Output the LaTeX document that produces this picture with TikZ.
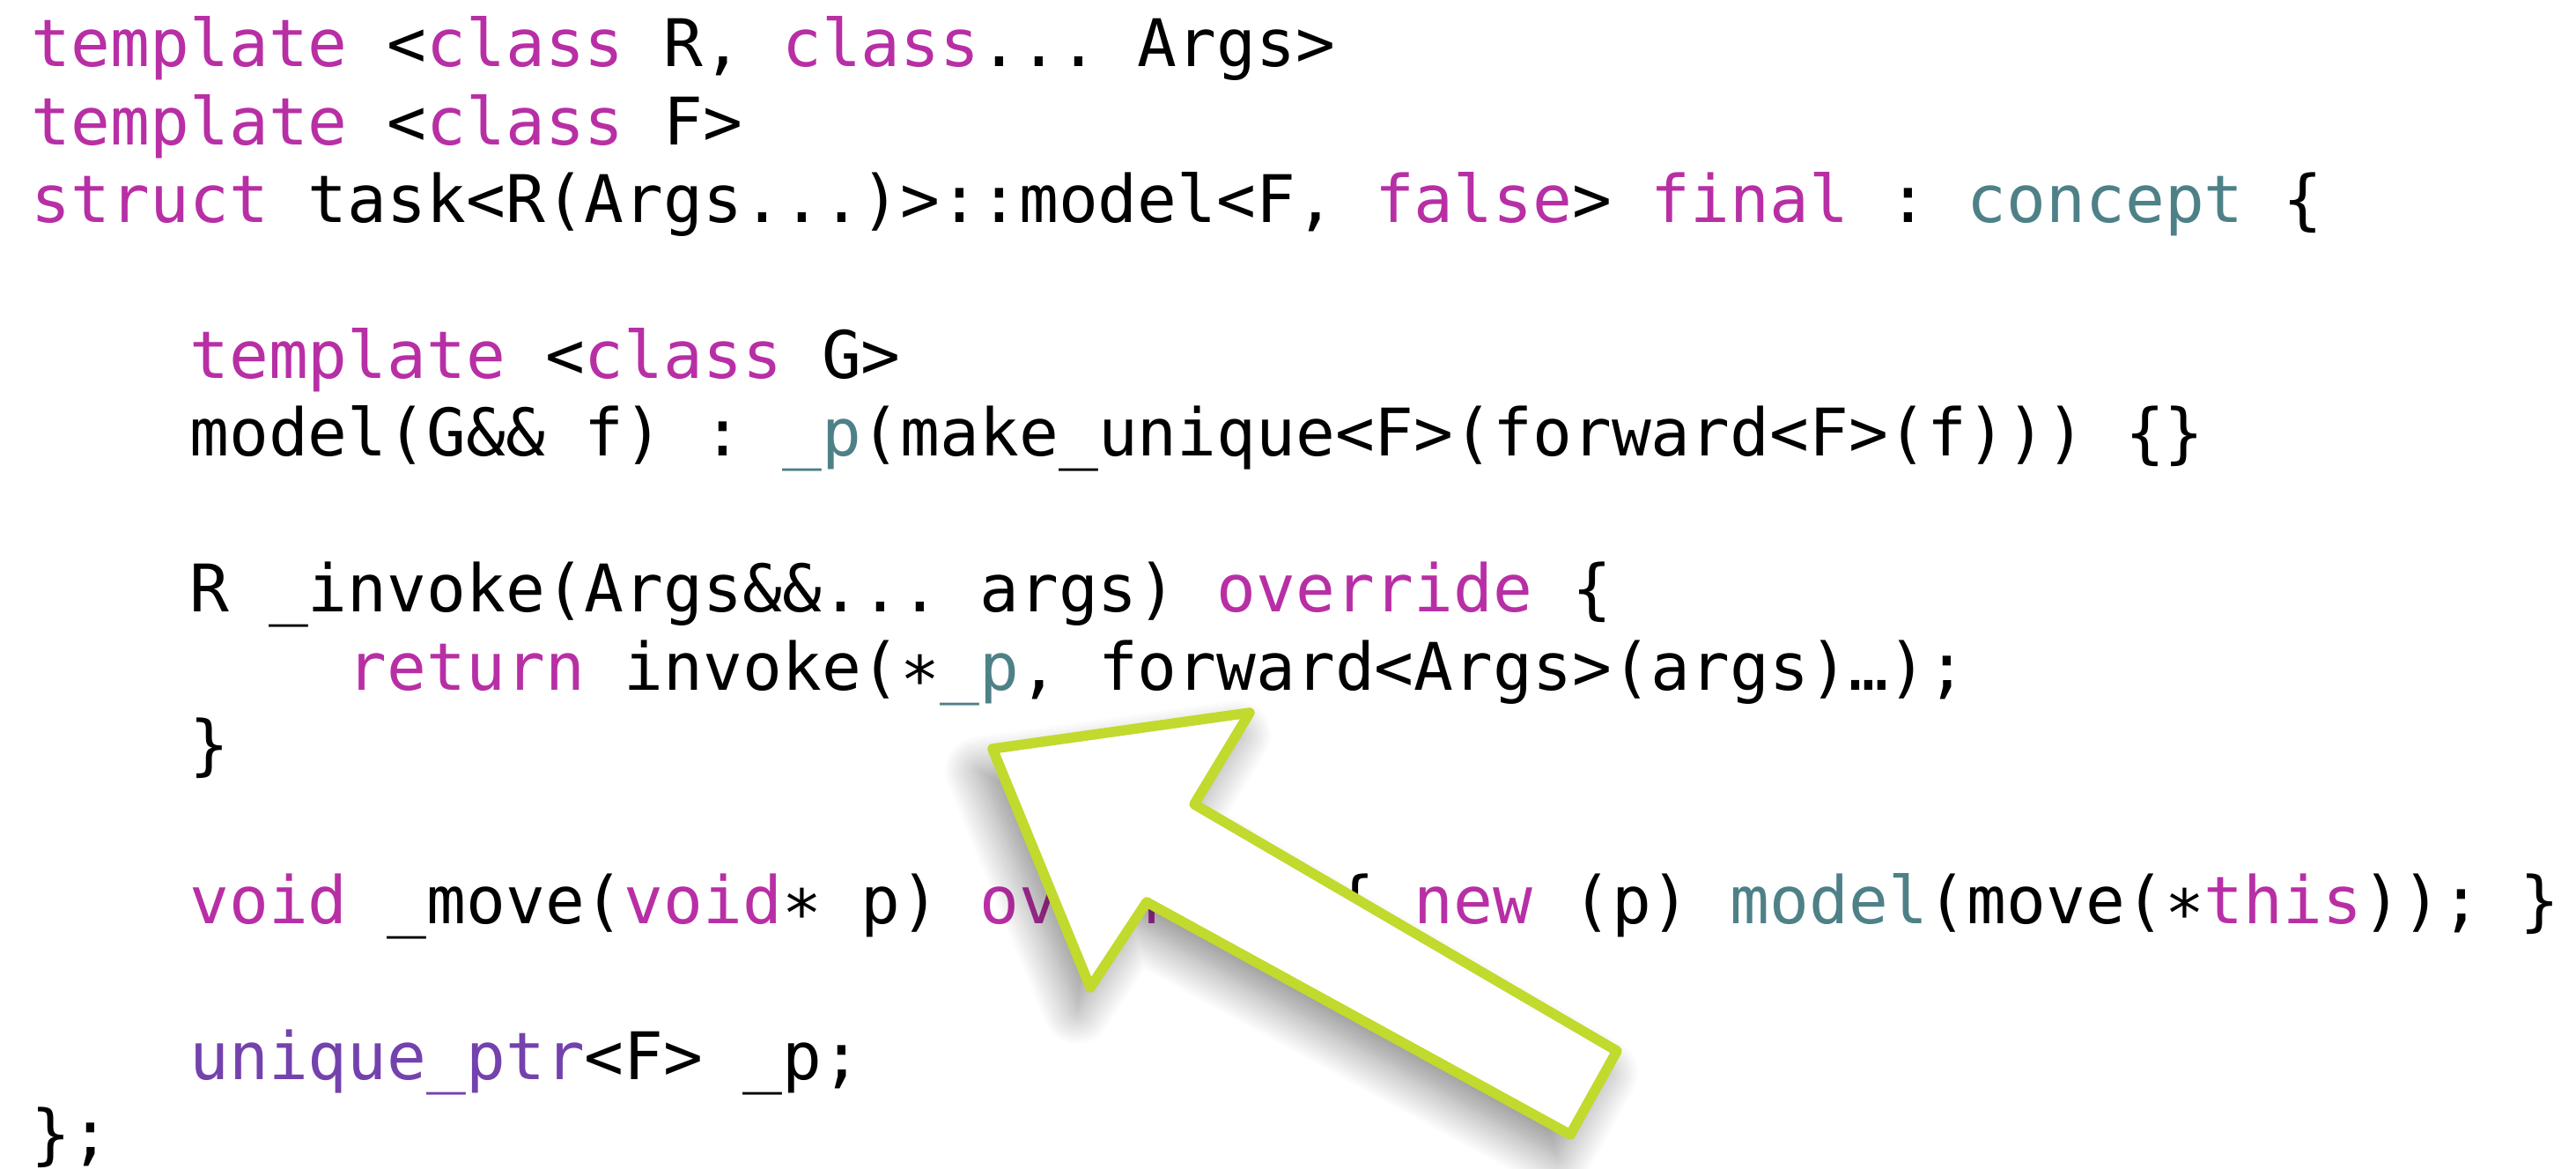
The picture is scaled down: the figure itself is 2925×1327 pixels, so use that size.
\documentclass[tikz,border=0pt]{standalone}
\usepackage{fontspec}
\setmonofont{DejaVu Sans Mono}
\usepackage{tikz}
\usetikzlibrary{shadows.blur}

\definecolor{kwmagenta}{RGB}{184,47,165}
\definecolor{identteal}{RGB}{78,129,135}
\definecolor{typepurple}{RGB}{116,66,173}
\definecolor{arrowlime}{RGB}{194,217,46}

\newcommand{\kw}[1]{\textcolor{kwmagenta}{#1}}
\newcommand{\pj}[1]{\textcolor{identteal}{#1}}
\newcommand{\ty}[1]{\textcolor{typepurple}{#1}}
\newcommand{\codefont}{\ttfamily\fontsize{14.9pt}{17.7pt}\selectfont}

\begin{document}
\begin{tikzpicture}[
  x=0.2pt, y=-0.2pt,
  codeline/.style={anchor=base west, inner sep=0pt, font=\codefont},
  callout/.style={draw=arrowlime, fill=white, line width=2.3pt, line join=round,
                  blur shadow={shadow xshift=-3pt, shadow yshift=-5pt,
                               shadow blur radius=8pt, shadow blur steps=24,
                               shadow opacity=45}}
]
  \useasboundingbox (0,0) rectangle (2925,1327);

  \node[codeline] (tpl1) at (35, 76.0)    {\kw{template} <\kw{class} R, \kw{class}... Args>};
  \node[codeline] (tpl2) at (35, 164.4)   {\kw{template} <\kw{class} F>};
  \node[codeline] (head) at (35, 252.8)   {\kw{struct} task<R(Args...)>::model<F, \kw{false}> \kw{final} : \pj{concept} \{};

  \node[codeline] (tpl3) at (214.4, 429.6) {\kw{template} <\kw{class} G>};
  \node[codeline] (ctor) at (214.4, 518.0) {model(G\&\& f) : \pj{\_p}(make\_unique<F>(forward<F>(f))) \{\}};

  \node[codeline] (inv)  at (214.4, 694.8) {R \_invoke(Args\&\&... args) \kw{override} \{};
  \node[codeline] (ret)  at (393.8, 783.2) {\kw{return} invoke(∗\pj{\_p}, forward<Args>(args)…);};
  \node[codeline] (invc) at (214.4, 871.6) {\}};

  \node[codeline] (mov)  at (214.4, 1048.4) {\kw{void} \_move(\kw{void}∗ p) \kw{override} \{ \kw{new} (p) \pj{model}(move(∗\kw{this})); \}};

  \node[codeline] (mem)  at (214.4, 1225.2) {\ty{unique\_ptr}<F> \_p;};
  \node[codeline] (tail) at (35, 1313.6)    {\};};

  % big pointer onto *_p
  \draw[callout] (1127,850) -- (1419,809) -- (1356,913) -- (1836,1193)
    -- (1783,1288) -- (1302,1024) -- (1238,1121) -- cycle;
\end{tikzpicture}
\end{document}
